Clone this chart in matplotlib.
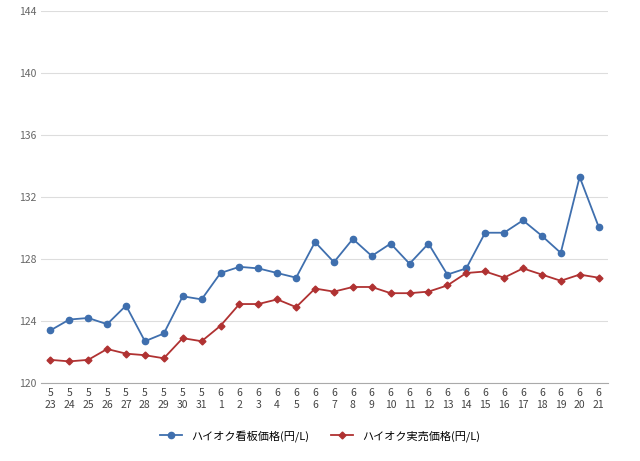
import matplotlib
matplotlib.use("Agg")
import matplotlib.pyplot as plt

months = ["5"] * 9 + ["6"] * 21
days = list(range(23, 32)) + list(range(1, 22))
sign_price = [123.4, 124.1, 124.2, 123.8, 125.0, 122.7, 123.2, 125.6, 125.4, 127.1,
              127.5, 127.4, 127.1, 126.8, 129.1, 127.8, 129.3, 128.2, 129.0, 127.7,
              129.0, 127.0, 127.4, 129.7, 129.7, 130.5, 129.5, 128.4, 133.3, 130.1]
actual_price = [121.5, 121.4, 121.5, 122.2, 121.9, 121.8, 121.6, 122.9, 122.7, 123.7,
                125.1, 125.1, 125.4, 124.9, 126.1, 125.9, 126.2, 126.2, 125.8, 125.8,
                125.9, 126.3, 127.1, 127.2, 126.8, 127.4, 127.0, 126.6, 127.0, 126.8]

plt.rcParams["font.family"] = ["Noto Sans CJK JP", "DejaVu Sans"]
fig = plt.figure(figsize=(6.4, 4.61), dpi=100)
ax = fig.add_axes([0.064, 0.169, 0.886, 0.807])

x = range(len(days))
ax.plot(x, sign_price, color="#3f6fae", marker="o", markersize=4.5, linewidth=1.3,
        label="ハイオク看板価格(円/L)")
ax.plot(x, actual_price, color="#b03232", marker="D", markersize=3.5, linewidth=1.3,
        label="ハイオク実売価格(円/L)")

ax.set_ylim(120, 144)
ax.set_yticks(range(120, 145, 4))
ax.set_xlim(-0.5, len(days) - 0.5)
ax.set_xticks(list(x))
ax.set_xticklabels([f"{m}\n{d}" for m, d in zip(months, days)], fontsize=7.5, color="#444444")
ax.tick_params(axis="y", labelsize=7.5, colors="#666666", length=0)
ax.tick_params(axis="x", length=0)
ax.grid(axis="y", color="#dddddd", linewidth=0.8)
for s in ["top", "right", "left"]:
    ax.spines[s].set_visible(False)
ax.spines["bottom"].set_color("#aaaaaa")

fig.legend(loc="lower center", bbox_to_anchor=(0.5, 0.02), ncol=2, frameon=False,
           fontsize=8, handlelength=2)
fig.savefig("out.png", dpi=100)
